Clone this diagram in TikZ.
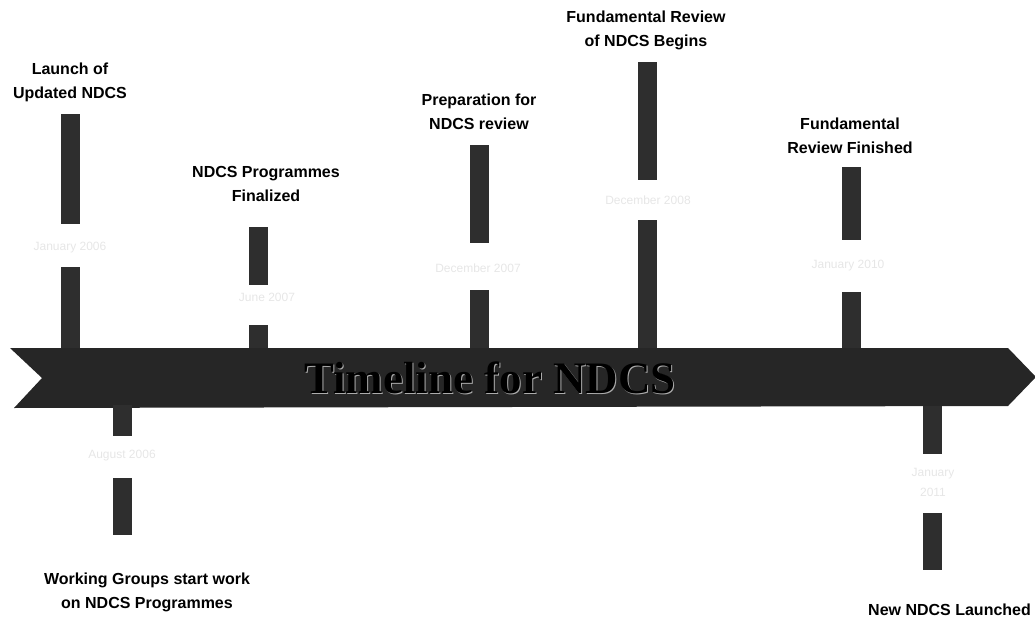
\documentclass[tikz,border=0pt]{standalone}
\usepackage{fontspec}
\setmainfont{Liberation Serif}
\setsansfont{Liberation Sans}
\definecolor{bandc}{HTML}{262626}
\definecolor{barc}{HTML}{2E2E2E}
\definecolor{datec}{HTML}{E6E6E6}
\begin{document}
\begin{tikzpicture}[x=1pt,y=-1pt,
  bar/.style={fill=barc, draw=none, inner sep=0pt, minimum width=19pt},
  evt/.style={font=\sffamily\bfseries\fontsize{16}{24}\selectfont, align=center, inner sep=0pt},
  date/.style={font=\sffamily\fontsize{12}{20}\selectfont, text=datec, align=center, inner sep=0pt}]
\useasboundingbox (0,0) rectangle (1035,620);
\begin{scope}
\clip (0,0) rectangle (1035,620);
% main arrow band
\fill[bandc] (10,348) -- (1008,348) -- (1036,377) -- (1008,406) -- (14,408) -- (42,378) -- cycle;
\end{scope}
\node[font=\rmfamily\bfseries\fontsize{45}{48}\selectfont, text=gray!65] at (491,379) {Timeline for NDCS};
\node[font=\rmfamily\bfseries\fontsize{45}{48}\selectfont, text=black] (tl) at (490,378) {Timeline for NDCS};
% upper bars
\node[bar, minimum height=110pt] (b1u) at (70,169) {};
\node[bar, minimum height=81pt] (b1l) at (70,307.5) {};
\node[bar, minimum height=58pt] (b2u) at (258.5,256) {};
\node[bar, minimum height=23pt] (b2l) at (258.5,336.5) {};
\node[bar, minimum height=98pt] (b3u) at (479,194) {};
\node[bar, minimum height=58pt] (b3l) at (479,319) {};
\node[bar, minimum height=118pt] (b4u) at (647,121) {};
\node[bar, minimum height=128pt] (b4l) at (647,284) {};
\node[bar, minimum height=73pt] (b5u) at (851,203.5) {};
\node[bar, minimum height=56pt] (b5l) at (851,320) {};
% lower bars
\node[bar, minimum height=31pt] (b6u) at (122.5,420.5) {};
\node[bar, minimum height=57pt] (b6l) at (122.5,506.5) {};
\node[bar, minimum height=48pt] (b7u) at (932,430) {};
\node[bar, minimum height=57pt] (b7l) at (932,541.5) {};
% dates
\node[date] (d1) at (70,248) {January 2006};
\node[date] (d2) at (267,297) {June 2007};
\node[date] (d3) at (478,268) {December 2007};
\node[date] (d4) at (648,200) {December 2008};
\node[date] (d5) at (848,266) {January 2010};
\node[date] (d6) at (122,456) {August 2006};
\node[date] (d7) at (933,482) {January\\2011};
% event titles
\node[evt] (e1) at (70,82) {Launch of\\Updated NDCS};
\node[evt] (e2) at (266,184) {NDCS Programmes\\Finalized};
\node[evt] (e3) at (479,112) {Preparation for\\NDCS review};
\node[evt] (e4) at (646,30) {Fundamental Review\\of NDCS Begins};
\node[evt] (e5) at (850,136) {Fundamental\\Review Finished};
\node[evt] (e6) at (147,592) {Working Groups start work\\on NDCS Programmes};
\node[evt, anchor=west] (e7) at (868,610) {New NDCS Launched};
\end{tikzpicture}
\end{document}
